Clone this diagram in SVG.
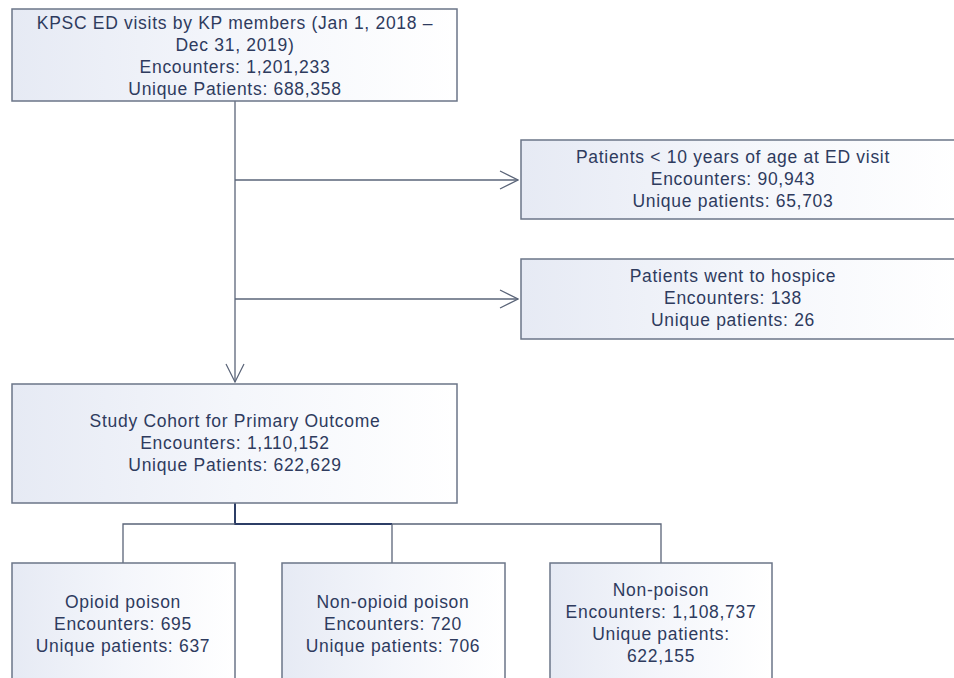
<svg xmlns="http://www.w3.org/2000/svg" width="954" height="678" viewBox="0 0 954 678">
<defs>
<linearGradient id="g" x1="0" y1="0" x2="1" y2="0">
<stop offset="0" stop-color="#e6eaf4"/>
<stop offset="0.5" stop-color="#f4f6fb"/>
<stop offset="1" stop-color="#ffffff"/>
</linearGradient>
<marker id="arr" viewBox="0 0 20 20" refX="19" refY="10" markerWidth="20" markerHeight="20" markerUnits="userSpaceOnUse" orient="auto">
<path d="M1,1 L19,10 L1,19" fill="none" stroke="#5a6478" stroke-width="1.2"/>
</marker>
<style>
.box{fill:url(#g);stroke:#6b7588;stroke-width:1.5}
.t{font-family:"Liberation Sans",Arial,sans-serif;font-size:17.5px;letter-spacing:0.7px;fill:#2e3b5e;text-anchor:middle}
.ln{fill:none;stroke:#5a6478;stroke-width:1.3}
.dk{fill:none;stroke:#2c3d66;stroke-width:2}
</style>
</defs>
<rect width="954" height="678" fill="#ffffff"/>
<g id="connectors">
<path class="ln" d="M235,101 V382" marker-end="url(#arr)"/>
<path class="ln" d="M235,180 H518" marker-end="url(#arr)"/>
<path class="ln" d="M235,299 H518" marker-end="url(#arr)"/>
<path class="dk" d="M235,503 V524 H392"/>
<path class="ln" d="M392,524 H661 V563"/>
<path class="ln" d="M123,563 V524 H235"/>
<path class="ln" d="M392,524 V563"/>
</g>
<g id="n-start">
<rect class="box" x="12" y="9" width="445" height="92"/>
<text class="t" x="235" y="29">KPSC ED visits by KP members (Jan 1, 2018 –</text>
<text class="t" x="235" y="51">Dec 31, 2019)</text>
<text class="t" x="235" y="73">Encounters: 1,201,233</text>
<text class="t" x="235" y="95">Unique Patients: 688,358</text>
</g>
<g id="n-age">
<rect class="box" x="521" y="140" width="440" height="79"/>
<text class="t" x="733" y="163">Patients &lt; 10 years of age at ED visit</text>
<text class="t" x="733" y="185">Encounters: 90,943</text>
<text class="t" x="733" y="207">Unique patients: 65,703</text>
</g>
<g id="n-hospice">
<rect class="box" x="521" y="259" width="440" height="80"/>
<text class="t" x="733" y="282">Patients went to hospice</text>
<text class="t" x="733" y="304">Encounters: 138</text>
<text class="t" x="733" y="326">Unique patients: 26</text>
</g>
<g id="n-cohort">
<rect class="box" x="12" y="384" width="445" height="119"/>
<text class="t" x="235" y="427">Study Cohort for Primary Outcome</text>
<text class="t" x="235" y="449">Encounters: 1,110,152</text>
<text class="t" x="235" y="471">Unique Patients: 622,629</text>
</g>
<g id="n-opioid">
<rect class="box" x="12" y="563" width="223" height="130"/>
<text class="t" x="123" y="608">Opioid poison</text>
<text class="t" x="123" y="630">Encounters: 695</text>
<text class="t" x="123" y="652">Unique patients: 637</text>
</g>
<g id="n-nonopioid">
<rect class="box" x="282" y="563" width="223" height="130"/>
<text class="t" x="393" y="608">Non-opioid poison</text>
<text class="t" x="393" y="630">Encounters: 720</text>
<text class="t" x="393" y="652">Unique patients: 706</text>
</g>
<g id="n-nonpoison">
<rect class="box" x="550" y="563" width="222" height="130"/>
<text class="t" x="661" y="596">Non-poison</text>
<text class="t" x="661" y="618">Encounters: 1,108,737</text>
<text class="t" x="661" y="640">Unique patients:</text>
<text class="t" x="661" y="662">622,155</text>
</g>
</svg>
